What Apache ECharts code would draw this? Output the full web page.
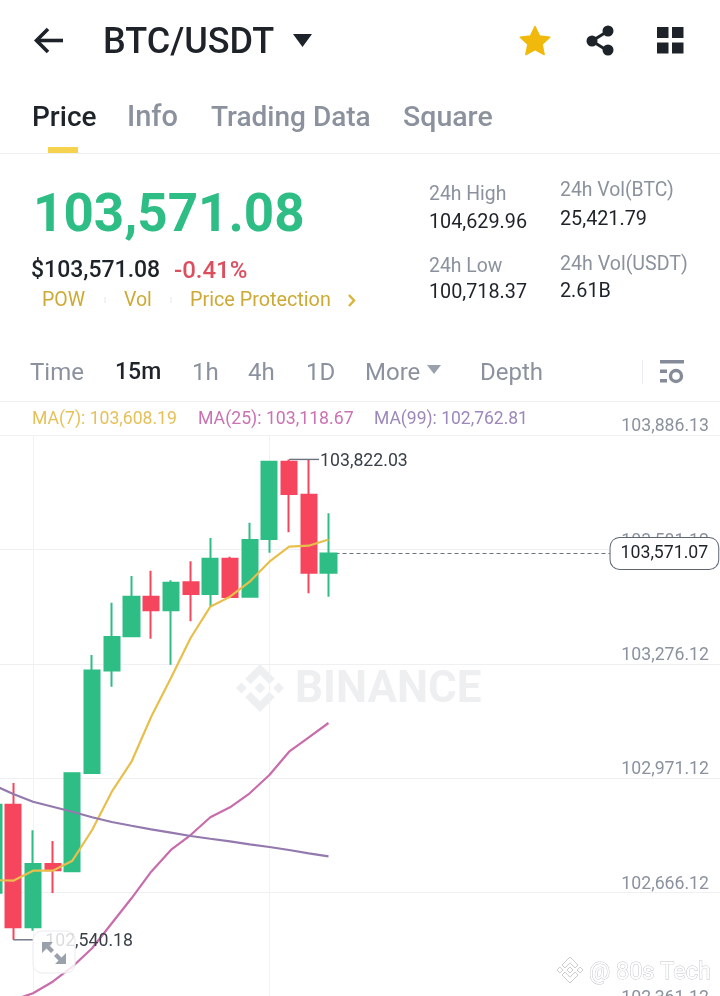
<!DOCTYPE html>
<html><head><meta charset="utf-8">
<style>html,body{margin:0;padding:0;background:#fff}#c{width:720px;height:996px}</style>
<script src="https://cdn.jsdelivr.net/npm/echarts@6/dist/echarts.min.js"></script>
</head><body><div id="c"></div>
<script>
// [open, close, low, high]
const candles = [
 [102665.8,102900.7,102665.8,102900.7],
 [102900.7,102573.5,102540.18,102958.6],
 [102573.5,102742.4,102564.4,102832.3],
 [102742.4,102725.6,102665.0,102803.8],
 [102722.9,102984.5,102722.9,102984.5],
 [102985.3,103258.8,102985.3,103300.1],
 [103258.8,103348.1,103215.5,103439.7],
 [103350.0,103455.7,103350.0,103510.9],
 [103455.7,103419.4,103343.6,103525.1],
 [103419.4,103493.1,103274.2,103499.4],
 [103494.1,103462.9,103390.1,103550.1],
 [103462.9,103557.1,103429.0,103612.3],
 [103557.1,103454.9,103454.9,103562.4],
 [103455.7,103607.0,103455.7,103653.1],
 [103609.7,103815.9,103573.1,103815.9],
 [103815.9,103729.7,103627.5,103822.03],
 [103727.9,103519.7,103464.8,103820.5],
 [103519.7,103571.07,103455.7,103678.2]
];
const ma7 = [102699.7,102697.9,102724.5,102724.5,102751.2,102833.1,102935.3,103015.4,103135.5,103238.8,103345.5,103429.0,103455.7,103495.7,103549.1,103589.1,103591.8,103608.19];
const ma25 = [102363.5,102379.5,102397.4,102428.4,102468.4,102517.5,102584.2,102650.9,102721.9,102779.8,102819.8,102867.1,102893.7,102931.1,102979.9,103042.1,103080.5,103118.67];
const ma99 = [102953.2,102929.2,102908.7,102895.3,102882.0,102867.1,102854.5,102844.6,102835.0,102826.0,102817.1,102809.9,102803.0,102795.0,102787.8,102779.8,102771.0,102762.81];
const yTicks = [102361.12,102666.12,102971.12,103276.12,103581.12,103886.13];
const lastPrice = 103571.07;
const highPoint = {index:15, value:103822.03};
const lowPoint = {index:1, value:102540.18};
const gridCandleIdx = [2,14];
const categories = Array.from({length:38},(_,i)=>String(i));

const fmt = v => v.toLocaleString('en-US',{minimumFractionDigits:2,maximumFractionDigits:2});
const F = 'Roboto, sans-serif';
const UP='#2EBD85', DOWN='#F6465D', DARK='#1E2329', GRAY='#8B929E';

function T(x,y,text,size,fill,weight,align){
  return {type:'text',x,y:y+size*0.07,z:10,silent:true,style:{text,fill,font:`${weight||400} ${size}px ${F}`,textAlign:align||'left',textVerticalAlign:'middle'}};
}
function R(x,y,w,h,fill,r){
  return {type:'rect',z:10,silent:true,shape:{x,y,width:w,height:h,r:r||0},style:{fill}};
}
function starPts(cx,cy,R1,R2){
  const p=[];for(let i=0;i<10;i++){const a=-Math.PI/2+i*Math.PI/5,r=i%2?R2:R1;p.push([cx+r*Math.cos(a),cy+r*Math.sin(a)]);}return p;
}
const LOGO_PARTS=[
 [[38.73,53.2],[63.3,28.63],[87.89,53.21],[102.19,38.91],[63.3,0],[24.43,38.9]],
 [[0,63.31],[14.3,49.01],[28.6,63.31],[14.3,77.61]],
 [[38.73,73.41],[63.3,97.99],[87.89,73.4],[102.2,87.69],[63.3,126.61],[24.41,87.71]],
 [[98.01,63.31],[112.31,49.01],[126.61,63.31],[112.31,77.61]],
 [[77.81,63.3],[63.3,48.79],[48.79,63.3],[63.3,77.82]]
];
function logo(x,y,size,style,z){
  const k=size/126.61;
  return LOGO_PARTS.map(pts=>({type:'polygon',z,silent:true,shape:{points:pts.map(p=>[x+p[0]*k,y+p[1]*k])},style}));
}
const ui = [
  // header
  {type:'polyline',z:10,silent:true,shape:{points:[[63,40.5],[37,40.5]]},style:{stroke:DARK,lineWidth:3.6,fill:null}},
  {type:'polyline',z:10,silent:true,shape:{points:[[48,29],[36.5,40.5],[48,52]]},style:{stroke:DARK,lineWidth:3.6,fill:null}},
  T(103,41.5,'BTC/USDT',36,DARK,500),
  {type:'polygon',z:10,silent:true,shape:{points:[[293,34],[312,34],[302.5,47]]},style:{fill:DARK}},
  {type:'polygon',z:10,silent:true,shape:{points:starPts(535,42,15.5,7.5)},style:{fill:'#F0B90B',stroke:'#F0B90B',lineJoin:'round',lineWidth:1.5}},
  {type:'polyline',z:10,silent:true,shape:{points:[[608,31],[592,41],[608,51]]},style:{stroke:DARK,lineWidth:3,fill:null}},
  {type:'circle',z:10,silent:true,shape:{cx:608,cy:31,r:5.5},style:{fill:DARK}},
  {type:'circle',z:10,silent:true,shape:{cx:592,cy:41,r:5.5},style:{fill:DARK}},
  {type:'circle',z:10,silent:true,shape:{cx:608,cy:50,r:5.5},style:{fill:DARK}},
  R(657,27,11.5,11,DARK),R(672,27,11.5,11,DARK),R(657,42.5,11.5,11,DARK),R(672,42.5,11.5,11,DARK),
  // tabs
  T(32,117,'Price',28,DARK,500),
  T(127,117,'Info',29,GRAY,500),
  T(211,117,'Trading Data',28,GRAY,500),
  T(403,117,'Square',28.5,GRAY,500),
  R(48,147,30,6,'#F6D24F'),
  R(0,153,720,1,'#EEF0F2'),
  // price block
  T(33,214,'103,571.08',53,UP,700),
  T(31,270,'$103,571.08',23,DARK,500),
  T(174,270,'-0.41%',24,'#DB4F5E',500),
  T(42,300,'POW',19.5,'#CDAA35'),
  R(104.5,297,1,6,'#E6E8EA'),
  T(124,300,'Vol',19.5,'#CDAA35'),
  R(170.5,297,1,6,'#E6E8EA'),
  T(190,300,'Price Protection',19.8,'#CDAA35'),
  {type:'polyline',z:10,silent:true,shape:{points:[[349,295],[354,300.5],[349,306]]},style:{stroke:'#D9B53C',lineWidth:2.4,fill:null}},
  T(429,194,'24h High',19.4,GRAY),
  T(429,222,'104,629.96',19.8,DARK),
  T(429,266,'24h Low',19.4,GRAY),
  T(429,292,'100,718.37',19.8,DARK),
  T(560,190,'24h Vol(BTC)',19.4,GRAY),
  T(560,219,'25,421.79',19.8,DARK),
  T(560,264,'24h Vol(USDT)',19.6,GRAY),
  T(560,291,'2.61B',19.8,DARK),
  // intervals
  T(30,372,'Time',24,GRAY),
  T(115,372,'15m',23,DARK,500),
  T(192,372,'1h',24,GRAY),
  T(248,372,'4h',24,GRAY),
  T(306,372,'1D',24,GRAY),
  T(365,372,'More',24,GRAY),
  {type:'polygon',z:10,silent:true,shape:{points:[[427,365],[441,365],[434,374]]},style:{fill:'#9AA1AC'}},
  T(480,372,'Depth',24,GRAY),
  R(642,360,1,24,'#E9EBEE'),
  R(660,360,24,3.5,'#858C97'),
  R(660,369.5,7,3.5,'#858C97'),
  R(660,379,7,3.5,'#858C97'),
  {type:'circle',z:10,silent:true,shape:{cx:676,cy:376,r:5.5},style:{fill:'#fff',stroke:'#858C97',lineWidth:3.4}},
  R(0,401,720,1,'#F0F1F3'),
  // MA row
  T(32,418,'MA(7): 103,608.19',17.6,'#E5C158'),
  T(198,418,'MA(25): 103,118.67',17.7,'#CA72B2'),
  T(374,418,'MA(99): 102,762.81',17.5,'#9C88BA'),
  // watermarks
  ...logo(236,664,48,{fill:'#EDEFF1'},-1),
  {type:'text',x:295,y:691,z:-1,silent:true,style:{text:'BINANCE',fill:'#EDEFF1',font:`700 44px ${F}`,textVerticalAlign:'middle'}},
  ...logo(557,957,26,{fill:'#fff',stroke:'#C9CCD1',lineWidth:1},10),
  {type:'text',x:589,y:973,z:10,silent:true,style:{text:'@ 80s Tech',fill:'#fff',stroke:'#BFC3C9',lineWidth:0.9,font:`400 23.5px ${F}`,textVerticalAlign:'middle'}},
  // expand button
  {type:'rect',z:10,silent:true,shape:{x:33,y:931,width:42,height:42,r:9},style:{fill:'rgba(255,255,255,0.82)',stroke:'#E9EBED',lineWidth:1}},
  {type:'polygon',z:11,silent:true,shape:{points:[[42,942],[53,942],[49.5,945.5],[54,950],[51,953],[46.5,948.5],[42,953]]},style:{fill:'#9AA1AA'}},
  {type:'polygon',z:11,silent:true,shape:{points:[[66,964],[55,964],[58.5,960.5],[54,956],[57,953],[61.5,957.5],[66,953]]},style:{fill:'#9AA1AA'}}
];

const maLine = (name,data,color)=>({name,type:'line',data,symbol:'none',smooth:false,z:4,silent:true,lineStyle:{color,width:2.2},itemStyle:{color}});
const chart = echarts.init(document.getElementById('c'),null,{width:720,height:996});
chart.setOption({
  animation:false,
  backgroundColor:'#fff',
  textStyle:{fontFamily:F},
  grid:{left:-6.4,top:435.4,width:728.9,height:571.5,containLabel:false,outerBoundsMode:'none'},
  xAxis:{type:'category',data:categories,boundaryGap:false,
    axisLine:{show:false},axisTick:{show:false},axisLabel:{show:false},
    splitLine:{show:true,interval:(i)=>gridCandleIdx.includes(i),lineStyle:{color:'#F1F2F4',width:1}}},
  yAxis:{type:'value',position:'right',min:yTicks[0],max:yTicks[yTicks.length-1],
    axisLine:{show:false},
    axisTick:{show:false,customValues:yTicks},
    axisLabel:{customValues:yTicks,inside:true,margin:13.5,color:'#8B929E',fontSize:17.7,fontFamily:F,align:'right',verticalAlign:'bottom',lineHeight:17,padding:[0,0,0,0],formatter:fmt,hideOverlap:false,showMinLabel:true,showMaxLabel:true},
    splitLine:{show:true,lineStyle:{color:'#EEF0F2',width:1}}},
  series:[
    {name:'BTC/USDT',type:'candlestick',data:candles,barWidth:15.6,z:3,silent:true,
     itemStyle:{color:UP,color0:DOWN,borderColor:UP,borderColor0:DOWN,borderWidth:2},
     markLine:{silent:true,symbol:'none',z:1,animation:false,label:{show:false},
       lineStyle:{color:'#6B7280',type:[4,3],width:1.2},
       data:[[{coord:['17',lastPrice]},{coord:['33',lastPrice]}]]},
     markPoint:{silent:true,animation:false,z:6,data:[
       {coord:[String(highPoint.index),highPoint.value],symbol:'rect',symbolSize:[30,1.4],symbolOffset:[15,0],itemStyle:{color:'#6B7280'},
        label:{show:true,position:'right',distance:1,offset:[0,2],formatter:fmt(highPoint.value),color:'#3A4048',fontSize:17.7,fontFamily:F}},
       {coord:[String(lowPoint.index),lowPoint.value],symbol:'rect',symbolSize:[20,1.4],symbolOffset:[10,0],itemStyle:{color:'#6B7280'},
        label:{show:true,position:'right',distance:12,offset:[0,2],formatter:fmt(lowPoint.value),color:'#3A4048',fontSize:17.7,fontFamily:F}},
       {coord:['34',lastPrice],symbol:'circle',symbolSize:1,itemStyle:{color:'rgba(0,0,0,0)'},
        label:{show:true,position:'inside',offset:[1,0],formatter:fmt(lastPrice),color:'#1E2329',fontSize:17.7,fontFamily:F,backgroundColor:'#fff',borderColor:'#5E6673',borderWidth:1,borderRadius:9,padding:[8,10,5,10],lineHeight:18}}
     ]}},
    maLine('MA(7)',ma7,'#E8BF4D'),
    maLine('MA(25)',ma25,'#C86CAB'),
    maLine('MA(99)',ma99,'#9379AD')
  ],
  graphic:{elements:ui}
});
</script></body></html>
